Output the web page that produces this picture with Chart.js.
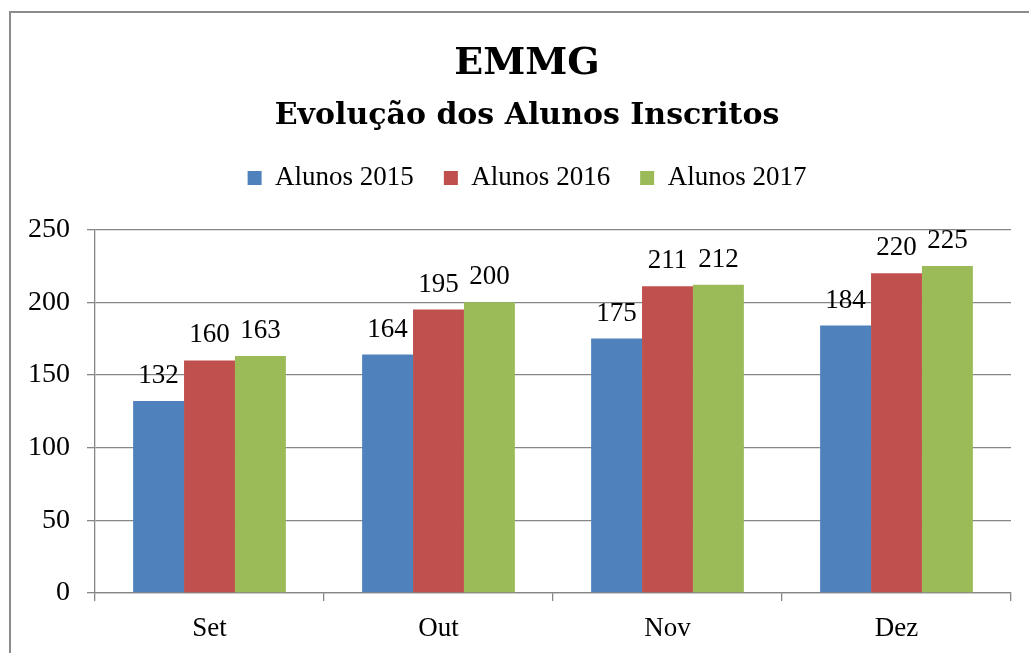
<!DOCTYPE html>
<html>
<head>
<meta charset="utf-8">
<script src="https://cdn.jsdelivr.net/npm/chart.js@4/dist/chart.umd.min.js"></script>
<style>
    html, body { margin: 0; padding: 0; background: #fff; overflow: hidden; width: 1029px; height: 653px; }
    #frame { position: absolute; left: 9px; top: 11px; width: 1100px; height: 700px;
             border-top: 2px solid #8c8c8c; border-left: 2px solid #8c8c8c; }
    #chart { position: absolute; left: 9px; top: 0; }
</style>
</head>
<body>
<div id="frame"></div>
<canvas id="chart" width="1036" height="653"></canvas>
<script>
const months = ['Set', 'Out', 'Nov', 'Dez'];
const alunos2015 = [132, 164, 175, 184];
const alunos2016 = [160, 195, 211, 220];
const alunos2017 = [163, 200, 212, 225];
const seriesNames = ['Alunos 2015', 'Alunos 2016', 'Alunos 2017'];
const seriesColors = ['#4f81bd', '#c0504d', '#9bbb59'];

const FONT = "'Liberation Serif', serif";
const TITLE_FONT = "'DejaVu Serif', serif";
const GRID = '#868686';

// numbers above each bar
const valueLabels = {
    id: 'valueLabels',
    afterDatasetsDraw(chart) {
        const ctx = chart.ctx;
        ctx.save();
        ctx.font = '27px ' + FONT;
        ctx.fillStyle = '#000';
        ctx.textAlign = 'center';
        ctx.textBaseline = 'alphabetic';
        chart.data.datasets.forEach(function(ds, i) {
            chart.getDatasetMeta(i).data.forEach(function(bar, j) {
                ctx.fillText(ds.data[j], bar.x, bar.y - 18);
            });
        });
        ctx.restore();
    }
};

// extra room between the legend and the plot
const legendGap = {
    id: 'legendGap',
    beforeLayout(chart) {
        const lg = chart.legend;
        if (lg && !lg._gapPatched) {
            const fit = lg.fit;
            lg.fit = function() {
                fit.call(this);
                this.height += 28;
            };
            lg._gapPatched = true;
        }
    }
};

const ctx = document.getElementById('chart').getContext('2d');
new Chart(ctx, {
    type: 'bar',
    data: {
        labels: months,
        datasets: [alunos2015, alunos2016, alunos2017].map(function(values, i) {
            return {
                label: seriesNames[i],
                data: values,
                backgroundColor: seriesColors[i],
                borderWidth: 0,
                categoryPercentage: 0.667,
                barPercentage: 1.0
            };
        })
    },
    options: {
        responsive: false,
        devicePixelRatio: 1,
        animation: false,
        layout: { padding: { top: 0, bottom: 0, left: 34, right: 34 } },
        plugins: {
            title: {
                display: true,
                text: 'EMMG',
                color: '#000',
                font: { family: TITLE_FONT, size: 38, weight: 'bold' },
                padding: { top: 41, bottom: 0 }
            },
            subtitle: {
                display: true,
                text: 'Evolução dos Alunos Inscritos',
                color: '#000',
                font: { family: TITLE_FONT, size: 30, weight: 'bold' },
                padding: { top: 12, bottom: 0 }
            },
            legend: {
                position: 'top',
                labels: {
                    color: '#000',
                    font: { family: FONT, size: 27 },
                    boxWidth: 14,
                    boxHeight: 14,
                    padding: 30
                }
            },
            tooltip: { enabled: false }
        },
        scales: {
            x: {
                grid: { drawOnChartArea: false, drawTicks: true, tickLength: 8, color: GRID, lineWidth: 1.3 },
                border: { color: GRID, width: 1.3 },
                ticks: { color: '#000', font: { family: FONT, size: 27 }, padding: 12 },
                afterFit(scale) { scale.height = 60; }
            },
            y: {
                min: 0,
                max: 250,
                // mirrored + negative padding so the labels sit left of the axis, right aligned
                ticks: { stepSize: 50, color: '#000', font: { family: FONT, size: 28 },
                         mirror: true, crossAlign: 'far', padding: -67 },
                grid: { color: GRID, lineWidth: 1.3, tickLength: 8 },
                border: { color: GRID, width: 1.3 },
                afterFit(scale) { scale.width = 52; }
            }
        }
    },
    plugins: [valueLabels, legendGap]
});
</script>
</body>
</html>
